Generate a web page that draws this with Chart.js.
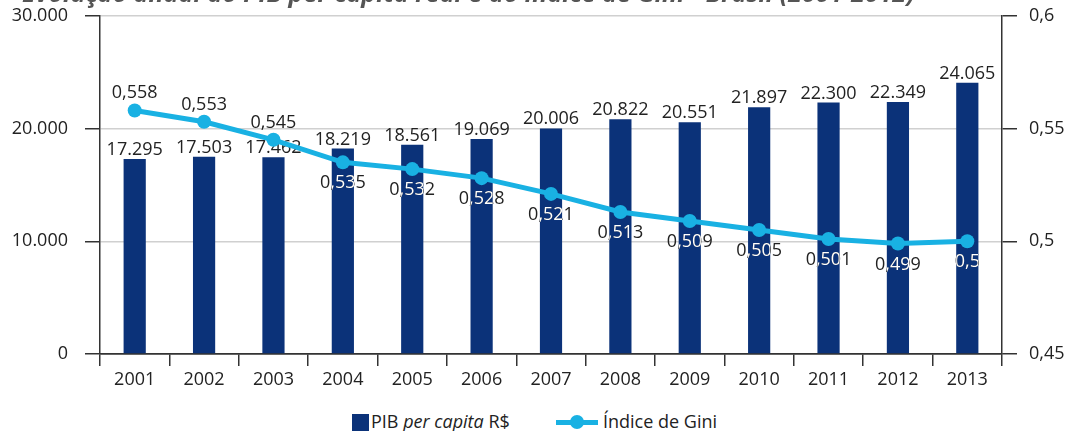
<!DOCTYPE html>
<html>
<head>
<meta charset="utf-8">
<script src="https://cdn.jsdelivr.net/npm/chart.js@4"></script>
<style>
  body { margin: 0; background: #fff; overflow: hidden; }
  #wrap { position: relative; width: 1066px; height: 431px; overflow: hidden; font-family: "Open Sans", sans-serif; }
  #title { position: absolute; left: 22px; top: -25px; font-size: 25px; font-weight: bold; font-style: italic; color: #555; white-space: nowrap; }
  #chart-box { position: absolute; left: 0; top: -12px; width: 1066px; height: 412px; }
  #legend { position: absolute; left: 0; top: 410px; width: 1066px; font-size: 18px; color: #222; }
  .item { position: absolute; top: 0; white-space: nowrap; line-height: 22px; }
  .box { display: inline-block; width: 17px; height: 17px; background: #0b3279; vertical-align: -3px; margin-right: 2px; }
  .ln { display: inline-block; position: relative; width: 42px; height: 17px; vertical-align: -3px; margin-right: 5px; }
  .ln::before { content: ""; position: absolute; left: 0; right: 0; top: 6px; height: 5px; background: #19b1e3; }
  .ln::after { content: ""; position: absolute; left: 14px; top: 1px; width: 14px; height: 14px; border-radius: 50%; background: #19b1e3; }
</style>
</head>
<body>
<div id="wrap">
  <div id="chart-box"><canvas id="gini-chart"></canvas></div>
  <div id="title">Evolução anual do PIB per capita real e do índice de Gini - Brasil (2001-2012)</div>
  <div id="legend">
    <span class="item" style="left:352px"><span class="box"></span>PIB <i>per capita</i> R$</span>
    <span class="item" style="left:556px"><span class="ln"></span>Índice de Gini</span>
  </div>
</div>
<script>
const years = ["2001", "2002", "2003", "2004", "2005", "2006", "2007", "2008", "2009", "2010", "2011", "2012", "2013"];
const pibData = [17295, 17503, 17462, 18219, 18561, 19069, 20006, 20822, 20551, 21897, 22300, 22349, 24065];
const giniData = [0.558, 0.553, 0.545, 0.535, 0.532, 0.528, 0.521, 0.513, 0.509, 0.505, 0.501, 0.499, 0.5];
const pibTicks = [0, 10000, 20000, 30000];
const giniTicks = [0.45, 0.5, 0.55, 0.6];

const barColor = "#0b3279";
const lineColor = "#19b1e3";
const textColor = "#222";
const labelFont = '18px "Open Sans", sans-serif';

function fmtThousands(v) {
  return String(Math.round(v)).replace(/\B(?=(\d{3})+(?!\d))/g, ".");
}
function fmtDecimal(v) {
  return String(+v.toFixed(3)).replace(".", ",");
}

// value labels: bar labels go under the line, gini labels on top (white where they sit on a bar)
const valueLabels = {
  id: "valueLabels",
  afterDatasetDraw(chart, args) {
    if (args.index !== 0) return;
    const ctx = chart.ctx;
    ctx.save();
    ctx.font = labelFont;
    ctx.fillStyle = textColor;
    ctx.textAlign = "center";
    ctx.textBaseline = "alphabetic";
    args.meta.data.forEach((bar, i) => {
      ctx.fillText(fmtThousands(pibData[i]), bar.x, bar.y - 4);
    });
    ctx.restore();
  },
  afterDatasetsDraw(chart) {
    const ctx = chart.ctx;
    const bars = chart.getDatasetMeta(0).data;
    const pts = chart.getDatasetMeta(1).data;
    const drawAll = (color) => {
      ctx.fillStyle = color;
      pts.forEach((p, i) => {
        const above = i < 3;
        ctx.fillText(fmtDecimal(giniData[i]), p.x, above ? p.y - 12 : p.y + 26);
      });
    };
    ctx.save();
    ctx.font = labelFont;
    ctx.textAlign = "center";
    ctx.textBaseline = "alphabetic";
    drawAll(textColor);
    ctx.beginPath();
    bars.forEach((b) => {
      ctx.rect(b.x - b.width / 2, b.y, b.width, b.base - b.y);
    });
    ctx.clip();
    drawAll("#fff");
    ctx.restore();
  },
};

const tickFont = { family: "Open Sans", size: 18 };

new Chart(document.getElementById("gini-chart").getContext("2d"), {
  type: "bar",
  data: {
    labels: years,
    datasets: [
      {
        type: "bar",
        label: "PIB per capita R$",
        data: pibData,
        backgroundColor: barColor,
        yAxisID: "y",
        barPercentage: 0.8,
        categoryPercentage: 0.4,
        order: 2,
      },
      {
        type: "line",
        label: "Índice de Gini",
        data: giniData,
        borderColor: lineColor,
        backgroundColor: lineColor,
        borderWidth: 5,
        pointRadius: 7,
        pointBorderWidth: 0,
        tension: 0,
        yAxisID: "y1",
        order: 1,
      },
    ],
  },
  options: {
    animation: false,
    responsive: true,
    maintainAspectRatio: false,
    layout: { padding: { top: 3, left: 0, right: 0, bottom: 0 } },
    plugins: {
      legend: { display: false },
      tooltip: { enabled: false },
    },
    scales: {
      x: {
        offset: true,
        grid: { offset: true, drawOnChartArea: false, tickLength: 12, color: "#333", lineWidth: 1.5 },
        border: { color: "#333", width: 1.5 },
        ticks: { color: textColor, font: tickFont, padding: 3 },
        afterFit(scale) { scale.height = 46; },
      },
      y: {
        position: "left",
        min: 0,
        max: 30000,
        afterBuildTicks(scale) { scale.ticks = pibTicks.map((v) => ({ value: v })); },
        grid: {
          color: (c) => (c.tick && c.tick.value === 0 ? "#333" : "#d0d0d0"),
          tickColor: "#333",
          tickLength: 15,
          lineWidth: 1.5,
        },
        border: { color: "#333", width: 1.5 },
        ticks: {
          color: textColor,
          font: tickFont,
          padding: 17,
          callback: (v) => fmtThousands(v),
        },
        afterFit(scale) { scale.width = 100; },
      },
      y1: {
        position: "right",
        min: 0.45,
        max: 0.6,
        afterBuildTicks(scale) { scale.ticks = giniTicks.map((v) => ({ value: v })); },
        grid: { drawOnChartArea: false, tickColor: "#333", tickLength: 15, lineWidth: 1.5 },
        border: { color: "#333", width: 1.5 },
        ticks: {
          color: textColor,
          font: tickFont,
          padding: 12,
          callback: (v) => fmtDecimal(v),
        },
        afterFit(scale) { scale.width = 64; },
      },
    },
  },
  plugins: [valueLabels],
});
</script>
</body>
</html>
